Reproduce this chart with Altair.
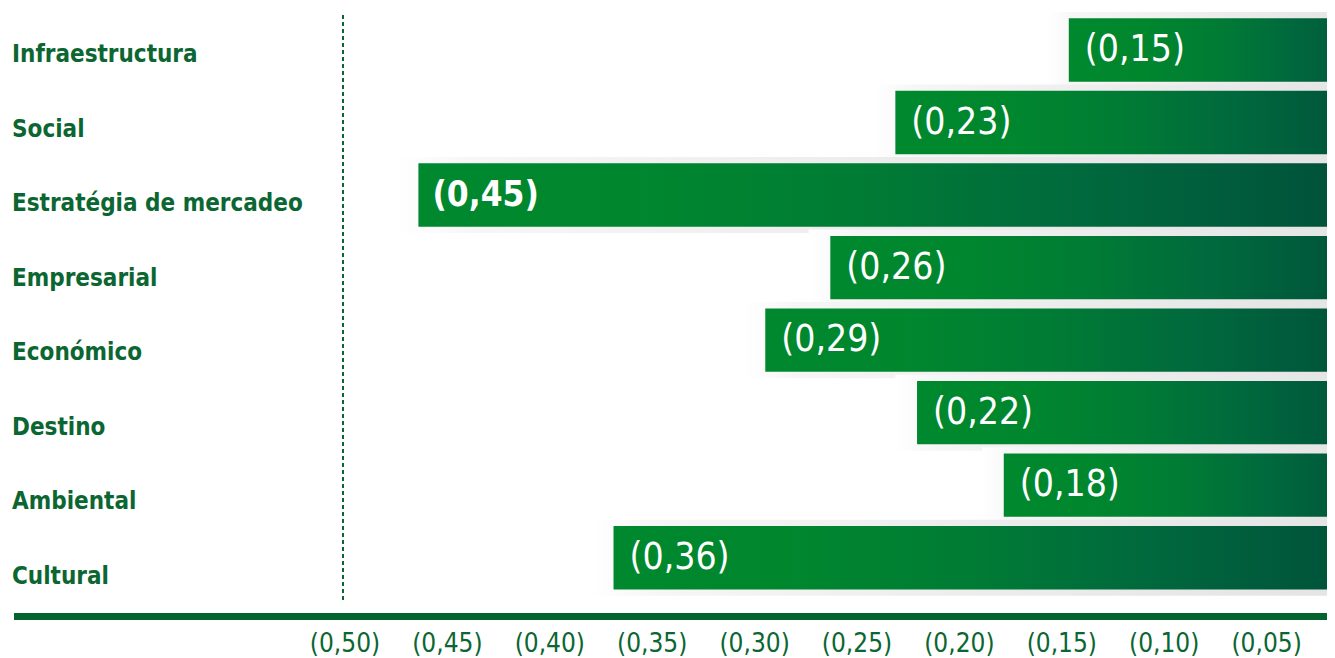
import altair as alt
import pandas as pd

# ---- data -------------------------------------------------------------
categories = ["Infraestructura", "Social", "Estratégia de mercadeo", "Empresarial",
              "Económico", "Destino", "Ambiental", "Cultural"]
values = [0.15, 0.23, 0.45, 0.26, 0.29, 0.22, 0.18, 0.36]
bar_labels = ["(0,15)", "(0,23)", "(0,45)", "(0,26)", "(0,29)", "(0,22)", "(0,18)", "(0,36)"]
bold_label = [False, False, True, False, False, False, False, False]

tick_values = [0.50, 0.45, 0.40, 0.35, 0.30, 0.25, 0.20, 0.15, 0.10, 0.05]
tick_labels = ["(0,50)", "(0,45)", "(0,40)", "(0,35)", "(0,30)",
               "(0,25)", "(0,20)", "(0,15)", "(0,10)", "(0,05)"]

df = pd.DataFrame({"category": categories, "value": values,
                   "label": bar_labels, "bold": bold_label})
ticks_df = pd.DataFrame({"tv": tick_values, "tl": tick_labels})

FONT = "DejaVu Sans Condensed, Roboto, sans-serif"
GREEN_TXT = "#0b6632"

W, H = 1319, 650

bar_x = alt.Scale(domain=[0, 0.5], range=[1386, 302], zero=False, nice=False)
bar_y = alt.Scale(domain=categories, range=[5.74, 585.96], paddingInner=0.126, paddingOuter=0.063)

bar_grad = {
    "gradient": "linear", "x1": 0, "x2": 1, "y1": 0, "y2": 0,
    "stops": [
        {"offset": 0.0, "color": "#00882e"},
        {"offset": 0.22, "color": "#00872e"},
        {"offset": 0.45, "color": "#007c34"},
        {"offset": 0.68, "color": "#00693d"},
        {"offset": 0.84, "color": "#005b3c"},
        {"offset": 1.0, "color": "#004d36"},
    ],
}
shadow_grad = {
    "gradient": "linear", "x1": 0, "x2": 1, "y1": 0, "y2": 0,
    "stops": [
        {"offset": 0.0, "color": "#ffffff"},
        {"offset": 0.08, "color": "#f6f6f6"},
        {"offset": 0.5, "color": "#ececec"},
        {"offset": 1.0, "color": "#e3e3e3"},
    ],
}

base = alt.Chart(df)

shadow = base.transform_calculate(sx="datum.value + 0.01").mark_bar(
    color=shadow_grad, height={"band": 1.2}, clip=True
).encode(
    x=alt.X("sx:Q", scale=bar_x, axis=None),
    x2=alt.datum(0),
    y=alt.Y("category:N", sort=categories, scale=bar_y, axis=None),
)

bars = base.mark_bar(color=bar_grad, clip=True).encode(
    x=alt.X("value:Q", scale=bar_x, axis=None),
    x2=alt.datum(0),
    y=alt.Y("category:N", sort=categories, scale=bar_y, axis=None),
)

txt_normal = base.transform_filter("!datum.bold").mark_text(
    align="left", baseline="middle", dx=16, fontSize=37, font=FONT, color="white"
).encode(
    x=alt.X("value:Q", scale=bar_x, axis=None),
    y=alt.Y("category:N", sort=categories, scale=bar_y, axis=None),
    text="label:N",
)
txt_bold = base.transform_filter("datum.bold").mark_text(
    align="left", baseline="middle", dx=14, fontSize=35, font=FONT, fontWeight="bold", color="white"
).encode(
    x=alt.X("value:Q", scale=bar_x, axis=None),
    y=alt.Y("category:N", sort=categories, scale=bar_y, axis=None),
    text="label:N",
)

main = alt.layer(shadow, bars, txt_normal, txt_bold)

cat_labels = base.mark_text(
    align="left", baseline="middle", fontSize=24, font=FONT, fontWeight="bold", color=GREEN_TXT
).encode(
    x=alt.value(4),
    y=alt.Y("category:N", sort=categories,
            scale=alt.Scale(type="point", domain=categories, range=[47.0, 568.8], padding=0),
            axis=None),
    text="category:N",
)

tick_text = alt.Chart(ticks_df).mark_text(
    align="center", baseline="middle", fontSize=26, font=FONT, color=GREEN_TXT
).encode(
    x=alt.X("tv:Q", scale=alt.Scale(domain=[0, 0.5], range=[1361, 337], zero=False, nice=False), axis=None),
    y=alt.value(636),
    text="tl:N",
)

dash_rule = alt.Chart(df).mark_rule(
    color=GREEN_TXT, strokeWidth=2, strokeDash=[4, 3]
).encode(x=alt.value(335), y=alt.value(7), y2=alt.value(592))

axis_rule = alt.Chart(df).mark_rule(color="#04632f", strokeWidth=7).encode(
    x=alt.value(6), x2=alt.value(W), y=alt.value(608.5)
)

chart = alt.layer(dash_rule, main, axis_rule, cat_labels, tick_text).resolve_scale(
    x="independent", y="independent"
).properties(
    width=W, height=H, autosize=alt.AutoSizeParams(type="none"), padding=0,
    background="white"
).configure_view(stroke=None)

chart.save("out.html", embed_options={"renderer": "svg", "actions": False})
